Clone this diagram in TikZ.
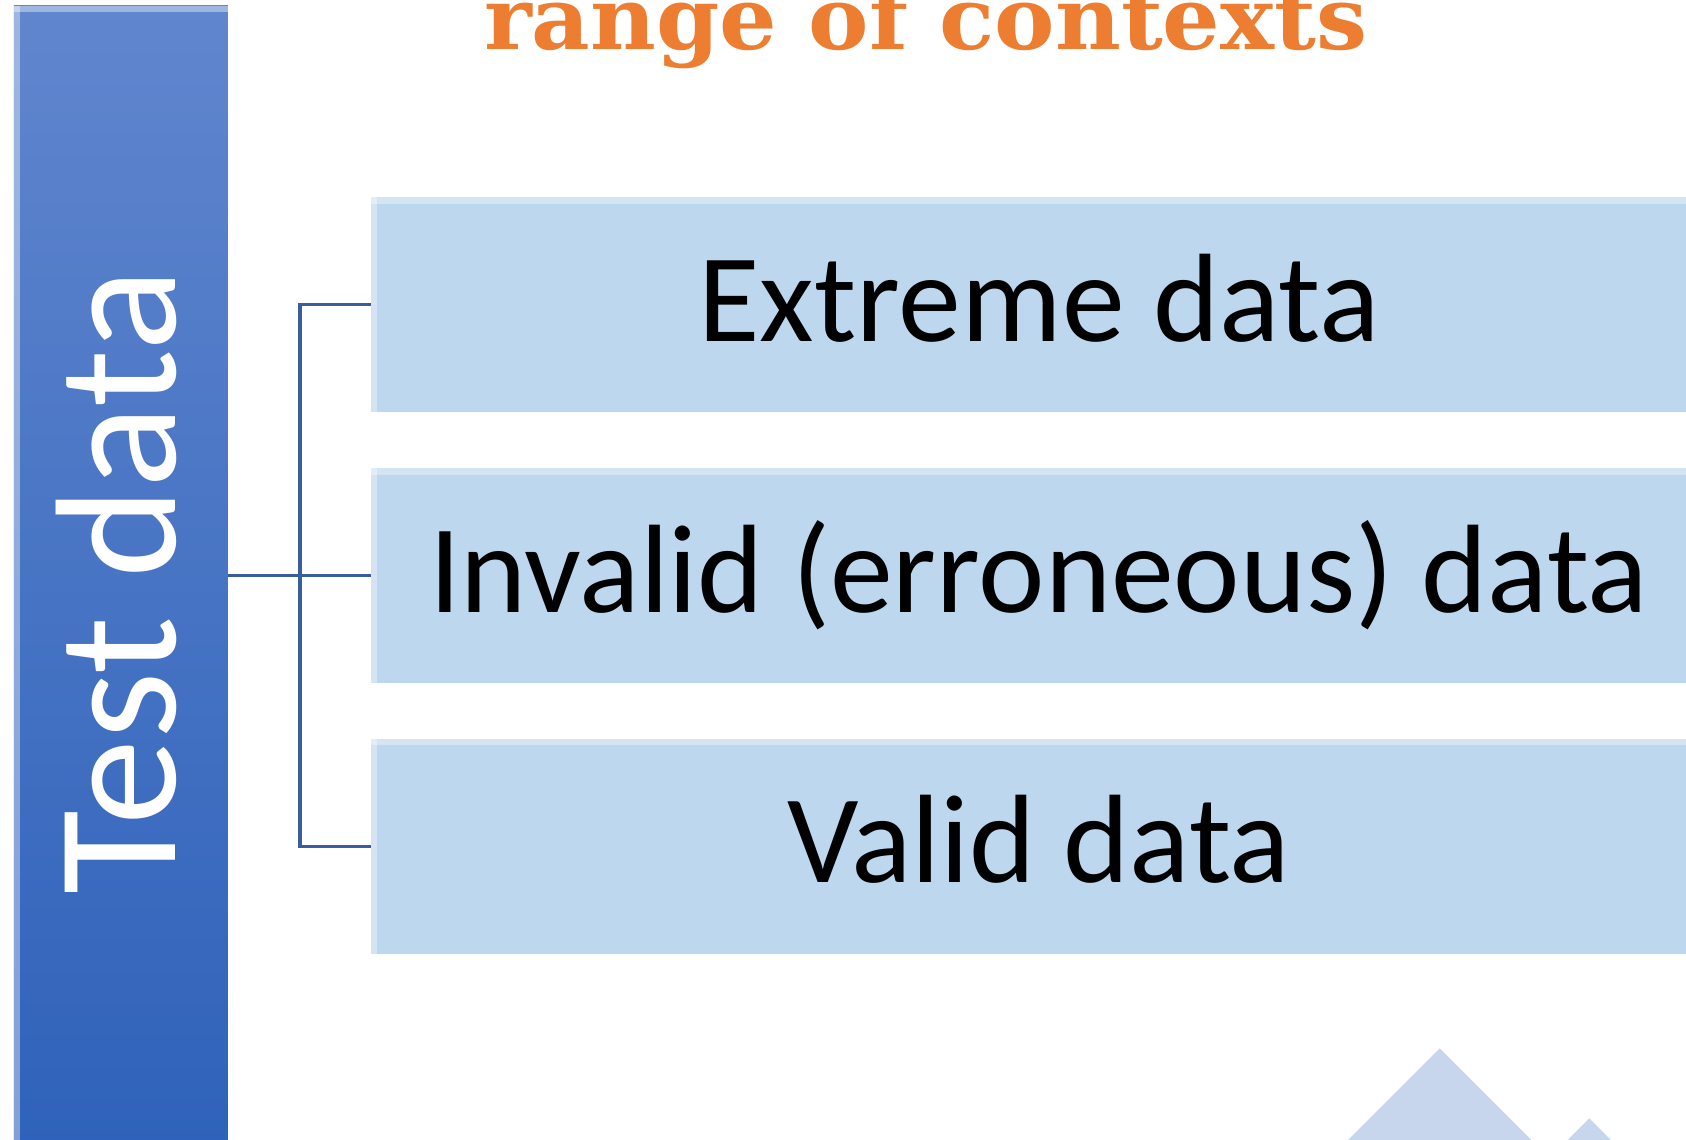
\documentclass[tikz,border=0pt]{standalone}
\usepackage{fontspec}
\setmainfont{Carlito}
\newfontfamily\titlefont{DejaVu Serif}
\usetikzlibrary{positioning}
\definecolor{barTop}{RGB}{96,134,206}
\definecolor{barBot}{RGB}{47,98,186}
\definecolor{boxFill}{RGB}{189,215,238}
\definecolor{lineBlue}{RGB}{58,92,160}
\definecolor{titleOrange}{RGB}{237,125,49}
\definecolor{peakBlue}{RGB}{199,213,237}

\begin{document}
\begin{tikzpicture}[x=0.5pt,y=-0.5pt,
    bevel/.style={path picture={
        \fill[white,opacity=#1] (path picture bounding box.north west) rectangle ([yshift=-3pt]path picture bounding box.north east);
        \fill[white,opacity=#1] (path picture bounding box.north west) rectangle ([xshift=3pt]path picture bounding box.south west);}},
    databox/.style={fill=boxFill, minimum width=621pt, minimum height=100pt, inner sep=0pt,
        text height=38pt, text depth=4pt, font=\fontsize{58.5}{70}\selectfont, bevel=0.35},
    link/.style={draw=lineBlue, line width=1.4pt}]
    \useasboundingbox (0,0) rectangle (1568,1060);

    % Title
    \node[anchor=base, xscale=1.04, text=titleOrange, font=\titlefont\bfseries\fontsize{40.5}{48}\selectfont] (title) at (861,46) {range of contexts};

    % Nodes
    \node[top color=barTop, bottom color=barBot, minimum width=99.5pt, minimum height=530pt, inner sep=0pt, bevel=0.4] (testbar) at (112.5,535.5) {};
    \node[rotate=90, text=white, inner sep=0pt, font=\fontsize{80}{92}\selectfont] (testlabel) at (108,541) {Test data};
    \node[databox] (extreme) at (966,283.5) {Extreme data};
    \node[databox] (invalid) at (966,535.5) {Invalid (erroneous) data};
    \node[databox] (valid) at (966,787) {Valid data};

    % Connectors
    \coordinate (hub) at (279,535.5);
    \draw[link] (testbar.east) -- (invalid.west);
    \draw[link] (extreme.west) -| (hub) |- (valid.west);

    % Peaks
    \fill[peakBlue] (1244,1070) -- (1339,975) -- (1434,1070) -- cycle;
    \fill[peakBlue] (1448,1070) -- (1478,1040) -- (1508,1070) -- cycle;
\end{tikzpicture}
\end{document}
